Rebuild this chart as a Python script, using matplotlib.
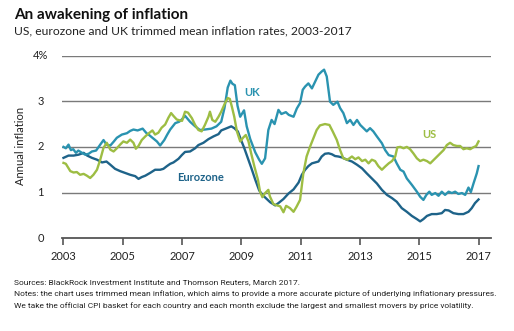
import matplotlib
matplotlib.use("Agg")
import matplotlib.pyplot as plt
import matplotlib.transforms as mtransforms

# Trimmed mean inflation (annual %, decimal year)
uk_years = [2003.00, 2003.08, 2003.17, 2003.25, 2003.33, 2003.42, 2003.50, 2003.60, 2003.73, 2003.85,
            2003.96, 2004.10, 2004.24, 2004.35, 2004.45, 2004.58, 2004.70, 2004.80, 2004.97, 2005.14,
            2005.25, 2005.36, 2005.50, 2005.67, 2005.80, 2005.87, 2006.00, 2006.15, 2006.26, 2006.40,
            2006.50, 2006.60, 2006.77, 2006.90, 2006.99, 2007.10, 2007.27, 2007.44, 2007.60, 2007.77,
            2007.99, 2008.16, 2008.32, 2008.43, 2008.54, 2008.63, 2008.70, 2008.78, 2008.87, 2008.96,
            2009.09, 2009.18, 2009.30, 2009.47, 2009.60, 2009.69, 2009.80, 2009.91, 2010.02, 2010.12,
            2010.25, 2010.35, 2010.50, 2010.60, 2010.76, 2010.87, 2010.98, 2011.07, 2011.15, 2011.26,
            2011.38, 2011.49, 2011.60, 2011.71, 2011.79, 2011.88, 2011.99, 2012.10, 2012.24, 2012.33,
            2012.44, 2012.56, 2012.67, 2012.78, 2012.90, 2013.01, 2013.12, 2013.23, 2013.34, 2013.45,
            2013.57, 2013.74, 2013.85, 2013.97, 2014.13, 2014.24, 2014.36, 2014.47, 2014.58, 2014.75,
            2014.92, 2015.03, 2015.14, 2015.24, 2015.34, 2015.42, 2015.54, 2015.65, 2015.76, 2015.87,
            2015.99, 2016.10, 2016.21, 2016.32, 2016.44, 2016.55, 2016.66, 2016.74, 2016.83, 2016.94,
            2017.00]
uk_vals = [2.00, 1.97, 2.05, 1.93, 1.95, 1.87, 1.92, 1.88, 1.83, 1.85,
           1.90, 1.92, 2.05, 2.15, 2.05, 2.03, 2.12, 2.20, 2.27, 2.30,
           2.35, 2.38, 2.36, 2.40, 2.30, 2.27, 2.20, 2.12, 2.03, 2.15,
           2.27, 2.38, 2.52, 2.55, 2.60, 2.68, 2.55, 2.45, 2.37, 2.38,
           2.40, 2.45, 2.55, 2.85, 3.30, 3.45, 3.38, 3.35, 2.90, 2.66,
           2.80, 2.45, 2.17, 1.88, 1.72, 1.63, 1.75, 2.37, 2.59, 2.50,
           2.81, 2.72, 2.76, 2.70, 2.66, 2.84, 2.96, 3.25, 3.32, 3.39,
           3.28, 3.43, 3.58, 3.65, 3.69, 3.54, 2.99, 2.92, 2.99, 2.85,
           2.74, 2.52, 2.59, 2.48, 2.59, 2.48, 2.41, 2.34, 2.41, 2.34,
           2.23, 2.08, 1.93, 1.82, 1.79, 1.64, 1.50, 1.46, 1.31, 1.17,
           1.02, 0.91, 0.84, 0.95, 1.02, 0.95, 0.99, 0.93, 1.02, 0.95,
           1.02, 0.99, 1.02, 0.97, 0.99, 0.95, 1.11, 1.01, 1.20, 1.42,
           1.58]

us_years = [2003.00, 2003.08, 2003.23, 2003.34, 2003.45, 2003.56, 2003.68, 2003.79, 2003.90, 2004.01,
            2004.13, 2004.24, 2004.35, 2004.46, 2004.58, 2004.69, 2004.80, 2004.91, 2005.02, 2005.14,
            2005.25, 2005.36, 2005.44, 2005.53, 2005.64, 2005.76, 2005.88, 2006.00, 2006.09, 2006.20,
            2006.31, 2006.43, 2006.54, 2006.63, 2006.72, 2006.82, 2006.92, 2007.00, 2007.10, 2007.20,
            2007.33, 2007.44, 2007.55, 2007.66, 2007.77, 2007.89, 2007.94, 2008.02, 2008.12, 2008.23,
            2008.32, 2008.45, 2008.54, 2008.61, 2008.68, 2008.76, 2008.85, 2008.96, 2009.07, 2009.15,
            2009.24, 2009.33, 2009.44, 2009.56, 2009.63, 2009.71, 2009.80, 2009.91, 2009.96, 2010.08,
            2010.20, 2010.31, 2010.42, 2010.51, 2010.64, 2010.76, 2010.86, 2010.98, 2011.09, 2011.20,
            2011.32, 2011.43, 2011.54, 2011.65, 2011.82, 2011.97, 2012.08, 2012.22, 2012.33, 2012.44,
            2012.58, 2012.73, 2012.84, 2012.95, 2013.07, 2013.18, 2013.29, 2013.40, 2013.51, 2013.62,
            2013.74, 2013.85, 2013.97, 2014.08, 2014.19, 2014.26, 2014.36, 2014.47, 2014.58, 2014.69,
            2014.80, 2014.92, 2015.03, 2015.14, 2015.26, 2015.37, 2015.54, 2015.71, 2015.82, 2015.93,
            2016.04, 2016.15, 2016.27, 2016.38, 2016.49, 2016.60, 2016.72, 2016.82, 2016.92, 2017.00]
us_vals = [1.65, 1.63, 1.47, 1.44, 1.45, 1.39, 1.41, 1.37, 1.32, 1.39,
           1.50, 1.72, 1.98, 2.09, 1.94, 1.90, 1.97, 2.05, 2.12, 2.09,
           2.16, 2.09, 1.96, 2.02, 2.15, 2.23, 2.30, 2.36, 2.27, 2.31,
           2.42, 2.49, 2.64, 2.74, 2.67, 2.60, 2.58, 2.57, 2.77, 2.75,
           2.63, 2.48, 2.37, 2.34, 2.48, 2.66, 2.77, 2.59, 2.55, 2.66,
           2.77, 2.96, 3.07, 3.05, 2.88, 2.66, 2.34, 2.12, 2.21, 2.26,
           2.12, 1.86, 1.57, 1.28, 1.02, 0.90, 0.99, 1.06, 0.92, 0.75,
           0.72, 0.70, 0.57, 0.71, 0.66, 0.58, 0.69, 0.84, 1.42, 1.79,
           2.01, 2.19, 2.37, 2.47, 2.50, 2.48, 2.34, 2.15, 1.93, 1.75,
           1.72, 1.79, 1.73, 1.77, 1.69, 1.72, 1.64, 1.72, 1.69, 1.58,
           1.50, 1.57, 1.64, 1.69, 1.79, 1.99, 2.00, 1.97, 2.00, 1.95,
           1.86, 1.75, 1.69, 1.72, 1.69, 1.64, 1.75, 1.86, 1.93, 2.04,
           2.09, 2.04, 2.02, 2.02, 1.95, 1.97, 1.95, 1.99, 2.02, 2.12]

ez_years = [2003.00, 2003.17, 2003.34, 2003.51, 2003.68, 2003.80, 2003.96, 2004.13, 2004.30, 2004.45,
            2004.58, 2004.74, 2004.91, 2005.08, 2005.25, 2005.42, 2005.53, 2005.64, 2005.76, 2005.92,
            2006.09, 2006.26, 2006.37, 2006.49, 2006.60, 2006.71, 2006.88, 2006.99, 2007.10, 2007.27,
            2007.44, 2007.55, 2007.72, 2007.89, 2008.06, 2008.23, 2008.32, 2008.51, 2008.66, 2008.76,
            2008.88, 2008.99, 2009.10, 2009.22, 2009.33, 2009.47, 2009.60, 2009.71, 2009.84, 2009.97,
            2010.14, 2010.25, 2010.42, 2010.59, 2010.76, 2010.93, 2011.04, 2011.15, 2011.26, 2011.38,
            2011.49, 2011.60, 2011.71, 2011.82, 2011.94, 2012.05, 2012.16, 2012.27, 2012.39, 2012.56,
            2012.73, 2012.90, 2013.07, 2013.23, 2013.40, 2013.57, 2013.74, 2013.91, 2014.08, 2014.24,
            2014.41, 2014.58, 2014.75, 2014.92, 2015.03, 2015.14, 2015.26, 2015.42, 2015.59, 2015.76,
            2015.87, 2015.99, 2016.15, 2016.32, 2016.49, 2016.66, 2016.77, 2016.88, 2017.00]
ez_vals = [1.76, 1.81, 1.81, 1.83, 1.87, 1.81, 1.76, 1.72, 1.66, 1.68,
           1.61, 1.52, 1.47, 1.43, 1.39, 1.36, 1.30, 1.34, 1.37, 1.43,
           1.50, 1.50, 1.52, 1.58, 1.63, 1.66, 1.74, 1.82, 1.89, 1.90,
           1.97, 2.04, 2.09, 2.17, 2.23, 2.28, 2.36, 2.41, 2.45, 2.41,
           2.34, 2.15, 1.97, 1.75, 1.55, 1.28, 1.05, 0.95, 0.87, 0.79,
           0.72, 0.77, 0.86, 0.98, 1.07, 1.22, 1.39, 1.50, 1.58, 1.64,
           1.66, 1.68, 1.79, 1.85, 1.86, 1.84, 1.80, 1.79, 1.77, 1.72,
           1.68, 1.61, 1.53, 1.42, 1.31, 1.20, 1.06, 0.95, 0.88, 0.80,
           0.66, 0.58, 0.49, 0.42, 0.37, 0.42, 0.49, 0.53, 0.53, 0.55,
           0.62, 0.61, 0.55, 0.53, 0.53, 0.58, 0.66, 0.77, 0.85]

x_ticks = [2003, 2005, 2007, 2009, 2011, 2013, 2015, 2017]
y_ticks = [0, 1, 2, 3, 4]
y_tick_labels = ["0", "1", "2", "3", "4%"]

UK_COLOR = "#2a93b0"
EZ_COLOR = "#1e6389"
US_COLOR = "#9dbd43"
GRID_COLOR = "#7a7a7a"
TEXT_COLOR = "#222222"

plt.rcParams["font.family"] = ["Lato", "DejaVu Sans"]

fig = plt.figure(figsize=(5.14, 3.31), dpi=100)
ax = fig.add_axes([62 / 514, (331 - 238.3) / 331, 429 / 514, 182.8 / 331])
ax.set_xlim(2002.95, 2017.42)
ax.set_ylim(0, 4)

for v in y_ticks[1:]:
    ax.axhline(v, color=GRID_COLOR, lw=1.0, zorder=1)

ax.plot(ez_years, ez_vals, color=EZ_COLOR, lw=1.7, zorder=3)
ax.plot(uk_years, uk_vals, color=UK_COLOR, lw=1.7, zorder=4)
ax.plot(us_years, us_vals, color=US_COLOR, lw=1.7, zorder=5)

for side in ["top", "right", "left"]:
    ax.spines[side].set_visible(False)
ax.spines["bottom"].set_color("#555555")
ax.spines["bottom"].set_linewidth(1.3)

ax.set_xticks(x_ticks)
ax.set_xticklabels([str(t) for t in x_ticks])
ax.tick_params(axis="x", direction="out", length=5, width=1.2, color="#555555",
               labelsize=8, labelcolor=TEXT_COLOR, pad=4)
ax.set_yticks([])

# y labels sit in figure space to the left of the gridlines
trans = mtransforms.blended_transform_factory(fig.transFigure, ax.transData)
for v, lab in zip(y_ticks, y_tick_labels):
    x_left = 33 / 514 if lab.endswith("%") else 37.5 / 514
    ax.text(x_left, v, lab, transform=trans, ha="left", va="center",
            fontsize=8, color=TEXT_COLOR)

fig.text(21 / 514, 1 - 146 / 331, "Annual inflation", rotation=90, ha="center",
         va="center", fontsize=8, color=TEXT_COLOR)

ax.text(2009.35, 3.18, "UK", color=UK_COLOR, fontsize=8, fontweight="bold",
        ha="center", va="center")
ax.text(2007.63, 1.32, "Eurozone", color=EZ_COLOR, fontsize=8, fontweight="bold",
        ha="center", va="center")
ax.text(2015.33, 2.27, "US", color=US_COLOR, fontsize=8, fontweight="bold",
        ha="center", va="center")

fig.text(14 / 514, 1 - 15 / 331, "An awakening of inflation", fontsize=11,
         fontweight="bold", color="#111111", ha="left", va="center")
fig.text(14 / 514, 1 - 31 / 331, "US, eurozone and UK trimmed mean inflation rates, 2003-2017",
         fontsize=8.7, color=TEXT_COLOR, ha="left", va="center")

notes = [
    "Sources: BlackRock Investment Institute and Thomson Reuters, March 2017.",
    "Notes: the chart uses trimmed mean inflation, which aims to provide a more accurate picture of underlying inflationary pressures.",
    "We take the official CPI basket for each country and each month exclude the largest and smallest movers by price volatility.",
]
for i, line in enumerate(notes):
    fig.text(14 / 514, 1 - (282 + i * 11.7) / 331, line, fontsize=6.05,
             family=["Roboto", "DejaVu Sans"], color=TEXT_COLOR,
             ha="left", va="center")

fig.savefig("out.png", dpi=100)
